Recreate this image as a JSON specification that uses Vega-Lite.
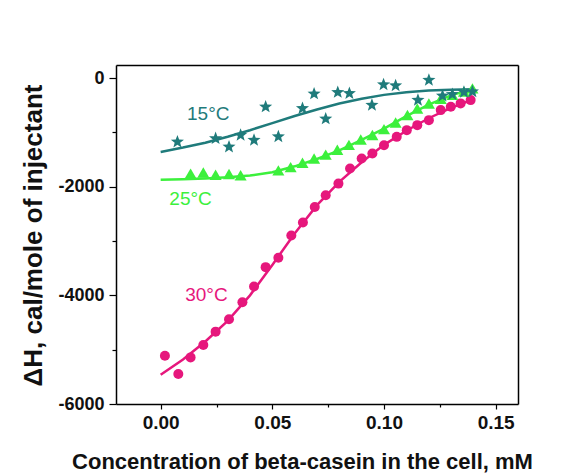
{
  "$schema": "https://vega.github.io/schema/vega-lite/v6.json",
  "autosize": {"type": "none"},
  "padding": {"left": 116, "top": 65, "right": 71, "bottom": 71},
  "width": 402,
  "height": 339,
  "background": "white",
  "config": {
    "view": {"stroke": null},
    "font": "Liberation Sans"
  },
  "datasets": {
    "pts": [
      {"series": "30", "x": 0.0019, "y": -5111},
      {"series": "30", "x": 0.0079, "y": -5449},
      {"series": "30", "x": 0.0134, "y": -5142},
      {"series": "30", "x": 0.0191, "y": -4914},
      {"series": "30", "x": 0.0246, "y": -4668},
      {"series": "30", "x": 0.0306, "y": -4441},
      {"series": "30", "x": 0.0366, "y": -4127},
      {"series": "30", "x": 0.0418, "y": -3838},
      {"series": "30", "x": 0.047, "y": -3481},
      {"series": "30", "x": 0.0527, "y": -3308},
      {"series": "30", "x": 0.0585, "y": -2897},
      {"series": "30", "x": 0.0637, "y": -2660},
      {"series": "30", "x": 0.069, "y": -2374},
      {"series": "30", "x": 0.0739, "y": -2159},
      {"series": "30", "x": 0.0796, "y": -1943},
      {"series": "30", "x": 0.0848, "y": -1666},
      {"series": "30", "x": 0.09, "y": -1482},
      {"series": "30", "x": 0.0948, "y": -1390},
      {"series": "30", "x": 0.1, "y": -1236},
      {"series": "30", "x": 0.1057, "y": -1083},
      {"series": "30", "x": 0.1102, "y": -959},
      {"series": "30", "x": 0.1149, "y": -867},
      {"series": "30", "x": 0.1201, "y": -775},
      {"series": "30", "x": 0.1254, "y": -590},
      {"series": "30", "x": 0.1299, "y": -529},
      {"series": "30", "x": 0.1343, "y": -467},
      {"series": "30", "x": 0.1388, "y": -406},
      {"series": "25", "x": 0.0134, "y": -1760},
      {"series": "25", "x": 0.0191, "y": -1740},
      {"series": "25", "x": 0.0246, "y": -1780},
      {"series": "25", "x": 0.0306, "y": -1765},
      {"series": "25", "x": 0.0358, "y": -1790},
      {"series": "25", "x": 0.0527, "y": -1700},
      {"series": "25", "x": 0.0582, "y": -1640},
      {"series": "25", "x": 0.0635, "y": -1560},
      {"series": "25", "x": 0.0687, "y": -1480},
      {"series": "25", "x": 0.0739, "y": -1410},
      {"series": "25", "x": 0.0791, "y": -1320},
      {"series": "25", "x": 0.0843, "y": -1230},
      {"series": "25", "x": 0.0896, "y": -1130},
      {"series": "25", "x": 0.0948, "y": -1050},
      {"series": "25", "x": 0.1, "y": -940},
      {"series": "25", "x": 0.1052, "y": -820},
      {"series": "25", "x": 0.1105, "y": -680},
      {"series": "25", "x": 0.1149, "y": -560},
      {"series": "25", "x": 0.1201, "y": -470},
      {"series": "25", "x": 0.1254, "y": -380},
      {"series": "25", "x": 0.1306, "y": -310},
      {"series": "25", "x": 0.1358, "y": -250},
      {"series": "25", "x": 0.1396, "y": -190},
      {"series": "15", "x": 0.0075, "y": -1175},
      {"series": "15", "x": 0.0246, "y": -1113},
      {"series": "15", "x": 0.0306, "y": -1267},
      {"series": "15", "x": 0.0358, "y": -1052},
      {"series": "15", "x": 0.0418, "y": -1144},
      {"series": "15", "x": 0.047, "y": -529},
      {"series": "15", "x": 0.0527, "y": -1080},
      {"series": "15", "x": 0.0635, "y": -560},
      {"series": "15", "x": 0.0687, "y": -290},
      {"series": "15", "x": 0.0739, "y": -750},
      {"series": "15", "x": 0.0793, "y": -262},
      {"series": "15", "x": 0.0845, "y": -282},
      {"series": "15", "x": 0.0946, "y": -500},
      {"series": "15", "x": 0.0998, "y": -120},
      {"series": "15", "x": 0.1052, "y": -140},
      {"series": "15", "x": 0.1152, "y": -408},
      {"series": "15", "x": 0.1201, "y": -40},
      {"series": "15", "x": 0.1262, "y": -330},
      {"series": "15", "x": 0.1306, "y": -300},
      {"series": "15", "x": 0.1358, "y": -260},
      {"series": "15", "x": 0.1396, "y": -250}
    ],
    "fits": [
      {"series": "30", "x": 0.0, "y": -5460},
      {"series": "30", "x": 0.01, "y": -5180},
      {"series": "30", "x": 0.02, "y": -4850},
      {"series": "30", "x": 0.03, "y": -4470},
      {"series": "30", "x": 0.04, "y": -4000},
      {"series": "30", "x": 0.05, "y": -3440},
      {"series": "30", "x": 0.06, "y": -2860},
      {"series": "30", "x": 0.07, "y": -2340},
      {"series": "30", "x": 0.08, "y": -1910},
      {"series": "30", "x": 0.09, "y": -1550},
      {"series": "30", "x": 0.1, "y": -1230},
      {"series": "30", "x": 0.11, "y": -970},
      {"series": "30", "x": 0.12, "y": -740},
      {"series": "30", "x": 0.13, "y": -550},
      {"series": "30", "x": 0.14, "y": -390},
      {"series": "25", "x": 0.0, "y": -1870},
      {"series": "25", "x": 0.01, "y": -1862},
      {"series": "25", "x": 0.02, "y": -1848},
      {"series": "25", "x": 0.03, "y": -1828},
      {"series": "25", "x": 0.04, "y": -1795},
      {"series": "25", "x": 0.05, "y": -1735},
      {"series": "25", "x": 0.06, "y": -1625},
      {"series": "25", "x": 0.07, "y": -1490},
      {"series": "25", "x": 0.08, "y": -1330},
      {"series": "25", "x": 0.09, "y": -1140},
      {"series": "25", "x": 0.1, "y": -930},
      {"series": "25", "x": 0.11, "y": -700},
      {"series": "25", "x": 0.12, "y": -490},
      {"series": "25", "x": 0.13, "y": -320},
      {"series": "25", "x": 0.14, "y": -200},
      {"series": "15", "x": 0.0, "y": -1360},
      {"series": "15", "x": 0.01, "y": -1280},
      {"series": "15", "x": 0.02, "y": -1190},
      {"series": "15", "x": 0.03, "y": -1080},
      {"series": "15", "x": 0.04, "y": -960},
      {"series": "15", "x": 0.05, "y": -830},
      {"series": "15", "x": 0.06, "y": -700},
      {"series": "15", "x": 0.07, "y": -580},
      {"series": "15", "x": 0.08, "y": -470},
      {"series": "15", "x": 0.09, "y": -380},
      {"series": "15", "x": 0.1, "y": -310},
      {"series": "15", "x": 0.11, "y": -260},
      {"series": "15", "x": 0.12, "y": -230},
      {"series": "15", "x": 0.13, "y": -215},
      {"series": "15", "x": 0.14, "y": -205}
    ],
    "labels": [
      {"series": "15", "text": "15°C", "x": 0.0213, "y": -655},
      {"series": "25", "text": "25°C", "x": 0.0134, "y": -2232},
      {"series": "30", "text": "30°C", "x": 0.0205, "y": -3985}
    ]
  },
  "resolve": {"axis": {"x": "independent", "y": "independent"}},
  "layer": [
    {
      "data": {"name": "fits"},
      "mark": {"type": "line", "strokeWidth": 2.5},
      "encoding": {
        "x": {
          "field": "x", "type": "quantitative",
          "scale": {"domain": [-0.02, 0.16], "nice": false, "zero": false},
          "axis": {
            "orient": "bottom",
            "title": "Concentration of beta-casein in the cell, mM",
            "values": [0, 0.025, 0.05, 0.075, 0.1, 0.125, 0.15],
            "labelExpr": "round(datum.value*1000) % 50 === 0 ? format(datum.value, '.2f') : ''",
            "grid": false,
            "domain": true,
            "domainColor": "#000000",
            "domainWidth": 1.5,
            "tickColor": "#000000",
            "tickWidth": 1.2,
            "tickSize": {"condition": {"test": "round(datum.value*1000) % 50 === 0", "value": 5}, "value": 3},
            "labelPadding": 4,
            "labelFont": "Liberation Sans",
            "labelFontWeight": "bold",
            "labelFontSize": 19,
            "labelColor": "#111111",
            "titleFont": "Liberation Sans",
            "titleFontWeight": "bold",
            "titleFontSize": 22,
            "titleColor": "#111111",
            "titleX": 186,
            "titleY": 57,
            "titleAlign": "center",
            "titleBaseline": "middle"
          }
        },
        "y": {
          "field": "y", "type": "quantitative",
          "scale": {"domain": [-6000, 240], "nice": false, "zero": false},
          "axis": {
            "orient": "left",
            "title": "ΔH, cal/mole of injectant",
            "values": [-6000, -5000, -4000, -3000, -2000, -1000, 0],
            "labelExpr": "datum.value % 2000 === 0 ? toString(datum.value) : ''",
            "grid": false,
            "domain": true,
            "domainColor": "#000000",
            "domainWidth": 1.5,
            "tickColor": "#000000",
            "tickWidth": 1.2,
            "tickSize": {"condition": {"test": "datum.value % 2000 === 0", "value": 7}, "value": 4},
            "labelPadding": 5,
            "labelFont": "Liberation Sans",
            "labelFontWeight": "bold",
            "labelFontSize": 18,
            "labelColor": "#111111",
            "titleFont": "Liberation Sans",
            "titleFontWeight": "bold",
            "titleFontSize": 26,
            "titleColor": "#111111",
            "titleAngle": -90,
            "titleX": -83,
            "titleY": 170,
            "titleAlign": "center",
            "titleBaseline": "middle"
          }
        },
        "detail": {"field": "series"},
        "order": {"field": "x", "type": "quantitative"},
        "color": {
          "field": "series", "type": "nominal", "legend": null,
          "scale": {"domain": ["15", "25", "30"], "range": ["#1f7b7b", "#3cf03c", "#e6177c"]}
        }
      }
    },
    {
      "data": {"name": "pts"},
      "mark": {"type": "point", "filled": true, "opacity": 1},
      "encoding": {
        "x": {"field": "x", "type": "quantitative", "axis": null},
        "y": {"field": "y", "type": "quantitative", "axis": null},
        "color": {"field": "series", "type": "nominal", "legend": null},
        "shape": {
          "field": "series", "type": "nominal", "legend": null,
          "scale": {"domain": ["15", "25", "30"], "range": ["M0,-1L0.247,-0.34L0.951,-0.309L0.399,0.13L0.588,0.809L0,0.42L-0.588,0.809L-0.399,0.13L-0.951,-0.309L-0.247,-0.34Z", "triangle-up", "circle"]}
        },
        "size": {
          "field": "series", "type": "nominal", "legend": null,
          "scale": {"domain": ["15", "25", "30"], "range": [190, 100, 100]}
        }
      }
    },
    {
      "data": {"name": "labels"},
      "mark": {"type": "text", "font": "Liberation Sans", "fontSize": 19, "align": "center", "baseline": "middle"},
      "encoding": {
        "x": {
          "field": "x", "type": "quantitative",
          "axis": {"orient": "top", "labels": false, "ticks": false, "title": null, "grid": false, "domain": true, "domainColor": "#000000", "domainWidth": 1.5}
        },
        "y": {
          "field": "y", "type": "quantitative",
          "axis": {"orient": "right", "labels": false, "ticks": false, "title": null, "grid": false, "domain": true, "domainColor": "#000000", "domainWidth": 1.5}
        },
        "text": {"field": "text"},
        "color": {
          "field": "series", "type": "nominal", "legend": null,
          "scale": {"domain": ["15", "25", "30"], "range": ["#2d7c82", "#58dc58", "#d8328a"]}
        }
      }
    }
  ]
}
